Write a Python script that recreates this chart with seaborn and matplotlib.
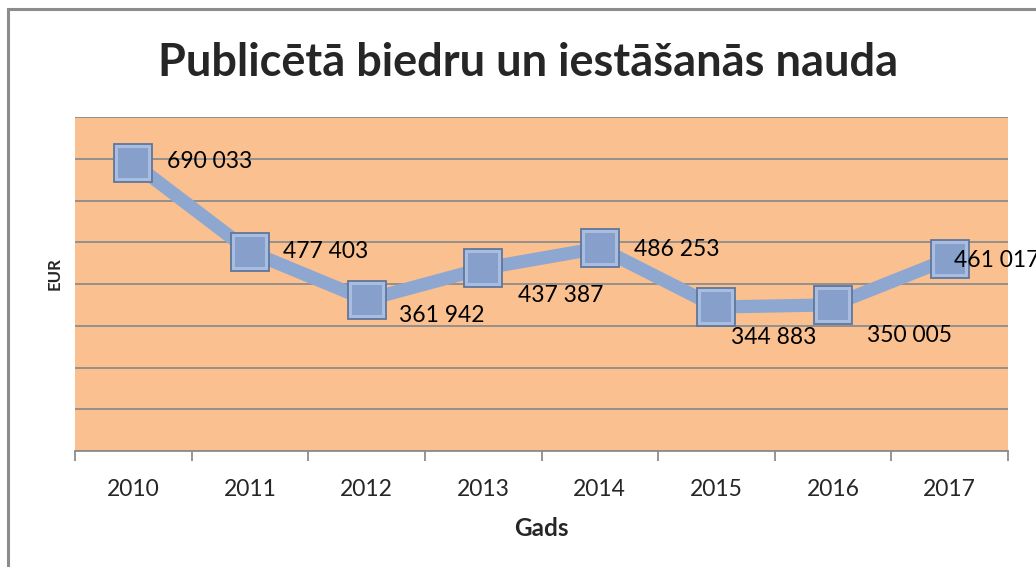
import numpy as np
import pandas as pd
import matplotlib.pyplot as plt
import seaborn as sns
from matplotlib.patches import Rectangle

# dati
gadi = [2010, 2011, 2012, 2013, 2014, 2015, 2016, 2017]
summas = [690033, 477403, 361942, 437387, 486253, 344883, 350005, 461017]
etiketes = ["690 033", "477 403", "361 942", "437 387", "486 253", "344 883", "350 005", "461 017"]

# etiķešu nobīdes pikseļos (dx, dy) un izlīdzinājums
nobides = [(34, 1, "left"), (33, 0, "left"), (75, -16, "center"), (78, -27, "center"),
           (34, -2, "left"), (57, -30, "center"), (76, -31, "center"), (4, -2, "left")]

df = pd.DataFrame({"Gads": gadi, "EUR": summas})

sns.set_theme(style="white")
plt.rcParams['font.family'] = ['Lato', 'DejaVu Sans']

fig = plt.figure(figsize=(10.36, 5.67), dpi=100)
ax = fig.add_axes([75/1036, 1-451/567, (1008-75)/1036, (451-117)/567])
ax.set_facecolor('#FAC090')

# diagrammas rāmis
fig.patches.append(Rectangle((7.5/1036, -0.2), 1.2, 1.2 - 8.5/567, transform=fig.transFigure,
                             fill=False, edgecolor='#8c8c8c', linewidth=2.2, zorder=0))

sns.lineplot(data=df, x="Gads", y="EUR", ax=ax, color='#8EA7D0', linewidth=9.5,
             marker='s', markersize=28, markerfacecolor='#A9BDE0',
             markeredgecolor='#5F769C', markeredgewidth=1.3, zorder=3)

# marķiera iekšējā virsma (vienkāršots reljefs)
ax.plot(df["Gads"], df["EUR"], linestyle='none', marker='s', markersize=21,
        markerfacecolor='#86A0CB', markeredgewidth=0, zorder=4)

for x, y, t, (dx, dy, ha) in zip(gadi, summas, etiketes, nobides):
    ax.annotate(t, (x, y), xytext=(dx * 0.72, dy * 0.72), textcoords='offset points',
                ha=ha, va='center', fontsize=16.5, color='black', zorder=5,
                annotation_clip=False)

ax.set_xlim(2009.5, 2017.5)
ax.set_ylim(0, 800000)
ax.set_yticks(np.arange(0, 800001, 100000))
ax.set_yticklabels([])
ax.yaxis.grid(True, color='#8c8c8c', linewidth=1.3)
ax.set_axisbelow(True)

ax.set_xticks(gadi)
ax.set_xticklabels([str(g) for g in gadi], fontsize=16.5)
ax.set_xticks(np.arange(2009.5, 2017.6, 1), minor=True)
ax.tick_params(axis='x', which='major', length=0, pad=20)
ax.tick_params(axis='x', which='minor', length=7, width=1.3, color='#8c8c8c', direction='out', bottom=True)
ax.tick_params(axis='y', length=0)

for s in ['top', 'right', 'left']:
    ax.spines[s].set_visible(False)
ax.spines['bottom'].set_color('#8c8c8c')
ax.spines['bottom'].set_linewidth(1.3)

ax.set_xlabel("")
ax.set_ylabel("")
fig.text(541/1036, 1-529/567, "Gads", ha='center', va='center', fontsize=17.5, fontweight='bold')
fig.text(55/1036, 1-274/567, "EUR", ha='center', va='center', rotation=90,
         fontsize=12, fontweight='bold')

fig.text(528/1036, 1-63/567, "Publicētā biedru un iestāšanās nauda", ha='center', va='center',
         fontsize=32.5, fontweight='bold')

fig.savefig("out.png", dpi=100)
